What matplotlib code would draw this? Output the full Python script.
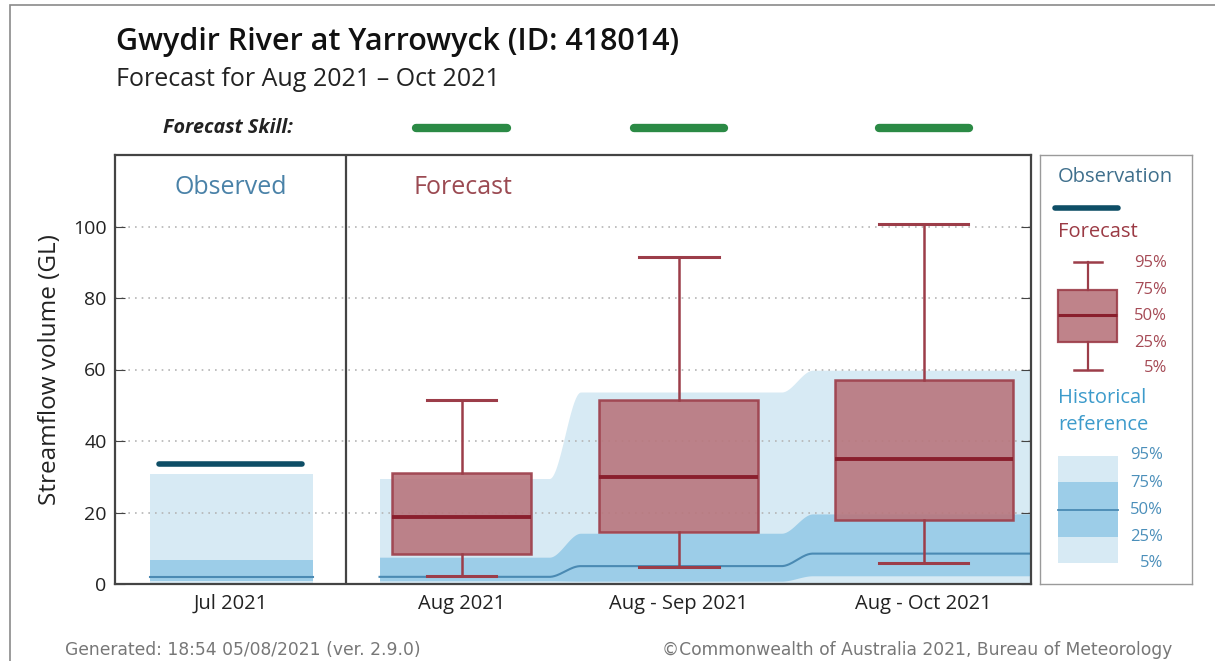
import numpy as np
import matplotlib
matplotlib.use('Agg')
import matplotlib.pyplot as plt
from matplotlib.patches import Rectangle

plt.rcParams['font.family'] = ['Open Sans', 'DejaVu Sans']

# chart data (GL)
periods = ['Jul 2021', 'Aug 2021', 'Aug - Sep 2021', 'Aug - Oct 2021']
observed = [33.7]

fc_p05 = [2.3, 4.7, 5.9]
fc_p25 = [8.4, 14.5, 18.0]
fc_p50 = [18.7, 29.9, 35.1]
fc_p75 = [31.0, 51.6, 57.2]
fc_p95 = [51.6, 91.6, 100.7]

hist_p05 = [0.2, 0.2, 0.3, 0.4]
hist_p25 = [0.9, 0.9, 0.8, 2.3]
hist_p50 = [1.9, 2.0, 5.0, 8.5]
hist_p75 = [6.7, 7.5, 14.2, 19.6]
hist_p95 = [30.9, 29.5, 53.7, 59.8]

# layout
positions = [0.0, 1.0, 1.94, 3.0]
box_widths = [0.60, 0.69, 0.77]
flat_segments = [(0.645, 1.38), (1.515, 2.385), (2.52, 3.5)]

light_blue = '#d7eaf4'
mid_blue = '#9ccde8'
line_blue = '#4a8ab3'
box_face = '#b8767d'
box_edge = '#9c3d49'
med_col = '#8a1f2d'


def band_curve(xs, vals):
    out = np.zeros_like(xs)
    for i, (a, b) in enumerate(flat_segments):
        out[(xs >= a) & (xs <= b)] = vals[i]
        if i + 1 < len(flat_segments):
            c = flat_segments[i + 1][0]
            m = (xs > b) & (xs < c)
            t = (xs[m] - b) / (c - b)
            t = t * t * (3 - 2 * t)
            out[m] = vals[i] + (vals[i + 1] - vals[i]) * t
    return out


fig = plt.figure(figsize=(12.15, 6.61), dpi=100)
W, H = 1215, 661
ax = fig.add_axes([115 / W, 1 - 584 / H, 916 / W, 429 / H])

# historical reference, observed month
jx = [positions[0] - 0.35, positions[0] + 0.355]
ax.fill_between(jx, hist_p05[0], hist_p95[0], color=light_blue, lw=0)
ax.fill_between(jx, hist_p25[0], hist_p75[0], color=mid_blue, lw=0)
ax.plot(jx, [hist_p50[0]] * 2, color=line_blue, lw=1.5)

# historical reference, forecast period
xs = np.linspace(flat_segments[0][0], flat_segments[-1][1], 600)
ax.fill_between(xs, band_curve(xs, hist_p05[1:]), band_curve(xs, hist_p95[1:]),
                color=light_blue, lw=0)
ax.fill_between(xs, band_curve(xs, hist_p25[1:]), band_curve(xs, hist_p75[1:]),
                color=mid_blue, lw=0)
ax.plot(xs, band_curve(xs, hist_p50[1:]), color=line_blue, lw=1.5)

# observation
ax.plot([positions[0] - 0.31, positions[0] + 0.31], [observed[0]] * 2,
        color='#0e4e66', lw=4, solid_capstyle='round', zorder=3)

# forecast boxes
stats = []
for i in range(len(fc_p50)):
    stats.append({'med': fc_p50[i], 'q1': fc_p25[i], 'q3': fc_p75[i],
                  'whislo': fc_p05[i], 'whishi': fc_p95[i], 'fliers': []})
ax.bxp(stats, positions=positions[1:], widths=box_widths,
       capwidths=[w / 2 for w in box_widths], patch_artist=True,
       showfliers=False, manage_ticks=False,
       boxprops=dict(facecolor=box_face, edgecolor=box_edge, lw=1.8, alpha=0.9),
       whiskerprops=dict(color=box_edge, lw=1.8),
       capprops=dict(color=box_edge, lw=2.2),
       medianprops=dict(color=med_col, lw=2.8))

ax.set_xlim(-0.5, 3.465)
ax.set_ylim(0, 120)
ax.set_yticks([0, 20, 40, 60, 80, 100])
ax.set_xticks(positions)
ax.set_xticklabels(periods)
ax.tick_params(axis='x', length=0, labelsize=14.5, pad=7, colors='#222')
ax.tick_params(axis='y', direction='in', length=7, right=True, pad=6,
               labelsize=14, colors='#444', labelcolor='#222')
ax.set_axisbelow('line')
ax.yaxis.grid(True, ls=(0, (1, 3)), color='#b5b5b5', lw=1.2)
ax.axvline(0.5, color='#444', lw=1.6, zorder=4)
for s in ax.spines.values():
    s.set_color('#444')
    s.set_linewidth(1.6)
ax.set_ylabel('Streamflow volume (GL)', fontsize=17.5, color='#222', labelpad=8)

ax.text(0.0, 111, 'Observed', ha='center', va='center', fontsize=18, color='#4a82a8')
ax.text(0.79, 111, 'Forecast', ha='left', va='center', fontsize=18, color='#9b4a52')

# forecast skill bars above the plot
for p in positions[1:]:
    ax.plot([p - 0.195, p + 0.195], [1.063, 1.063], color='#2b8a45', lw=6,
            solid_capstyle='round', transform=ax.get_xaxis_transform(), clip_on=False)
fig.text(163 / W, 1 - 128 / H, 'Forecast Skill:', fontsize=14.2, fontweight='bold',
         style='italic', va='center', color='#222')

fig.text(116 / W, 1 - 42 / H, 'Gwydir River at Yarrowyck (ID: 418014)', fontsize=22,
         fontweight='semibold', va='center', color='#111')
fig.text(116 / W, 1 - 80 / H, 'Forecast for Aug 2021 \u2013 Oct 2021', fontsize=18,
         va='center', color='#222')

fig.text(65 / W, 1 - 650 / H, 'Generated: 18:54 05/08/2021 (ver. 2.9.0)', fontsize=12.3,
         va='center', color='#777', family='DejaVu Sans')
fig.text(1172 / W, 1 - 650 / H, '\u00a9Commonwealth of Australia 2021, Bureau of Meteorology',
         fontsize=12.3, va='center', ha='right', color='#777', family='DejaVu Sans')

# legend panel
lg = fig.add_axes([1040 / W, 1 - 584 / H, 152 / W, 429 / H])
lg.set_xlim(0, 152)
lg.set_ylim(429, 0)
lg.set_xticks([])
lg.set_yticks([])
for s in lg.spines.values():
    s.set_color('#9a9a9a')
    s.set_linewidth(1.0)
lg.text(18, 22, 'Observation', fontsize=14.5, color='#3f6f8c', va='center')
lg.plot([15, 78], [53, 53], color='#0e4e66', lw=4, solid_capstyle='round')
lg.text(18, 77, 'Forecast', fontsize=14.5, color='#9b3a44', va='center')
lg.bxp([{'med': 160, 'q1': 187, 'q3': 135, 'whislo': 215, 'whishi': 107, 'fliers': []}],
       positions=[47.5], widths=59, capwidths=28, patch_artist=True, showfliers=False,
       manage_ticks=False,
       boxprops=dict(facecolor=box_face, edgecolor=box_edge, lw=1.6, alpha=0.9),
       whiskerprops=dict(color=box_edge, lw=1.6),
       capprops=dict(color=box_edge, lw=1.8),
       medianprops=dict(color=med_col, lw=2.2))
for lab, yy in zip(['95%', '75%', '50%', '25%', '5%'], [108, 135, 161, 188, 213]):
    lg.text(127, yy, lab, fontsize=12, color='#a54a55', ha='right', va='center')
lg.text(18, 243, 'Historical', fontsize=14.5, color='#3d9bcb', va='center')
lg.text(18, 270, 'reference', fontsize=14.5, color='#3d9bcb', va='center')
lg.add_patch(Rectangle((18, 301), 60, 107, color=light_blue, lw=0))
lg.add_patch(Rectangle((18, 327), 60, 55, color=mid_blue, lw=0))
lg.plot([18, 78], [355, 355], color=line_blue, lw=1.3)
for lab, yy in zip(['95%', '75%', '50%', '25%', '5%'], [300, 328, 355, 382, 408]):
    lg.text(123, yy, lab, fontsize=12, color='#4b8fba', ha='right', va='center')

# outer frame
fig.patches.append(Rectangle((10 / W, -0.1), 1.1, 1.1 - 5 / H, transform=fig.transFigure,
                             fill=False, ec='#8a8a8a', lw=1.2))

fig.savefig('out.png', dpi=100)
